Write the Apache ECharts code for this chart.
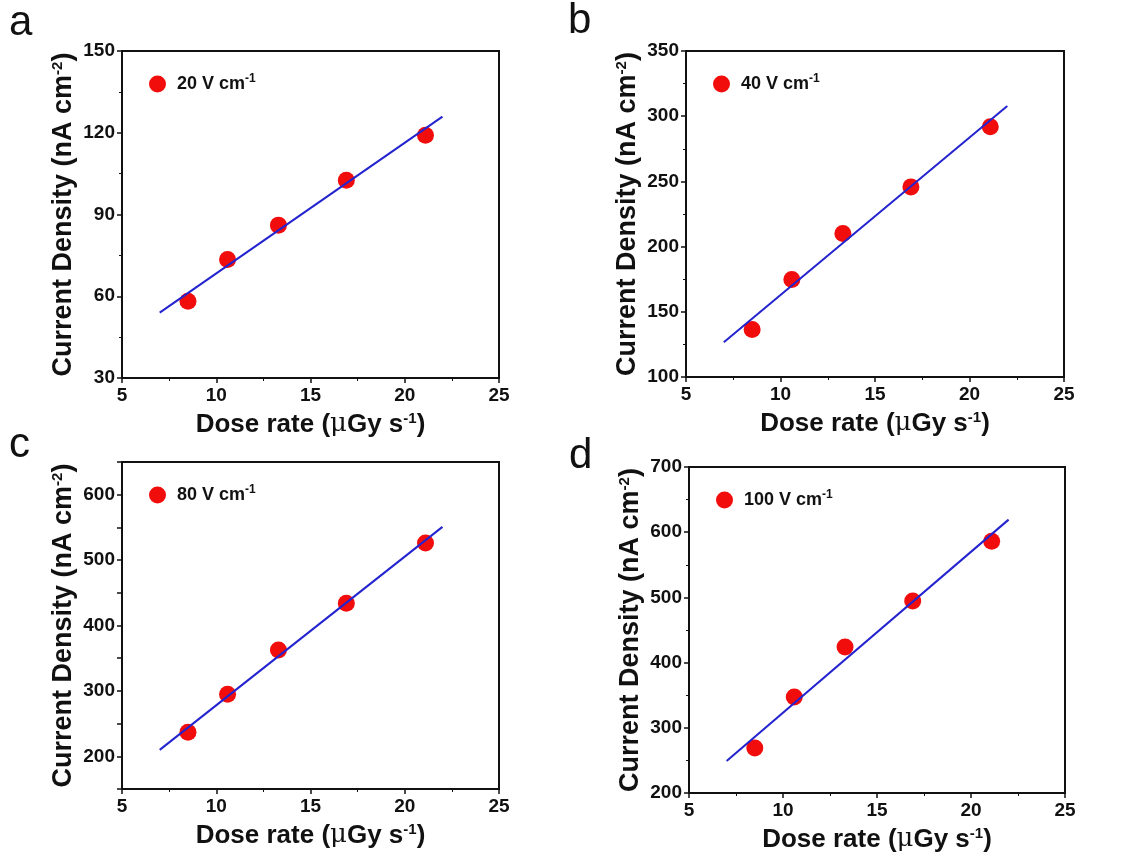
<!DOCTYPE html>
<html>
<head>
<meta charset="utf-8">
<script src="https://cdn.jsdelivr.net/npm/echarts@6/dist/echarts.min.js"></script>
<style>
  html, body { margin: 0; padding: 0; background: #fff; }
  #chart { width: 1122px; height: 863px; }
</style>
</head>
<body>
<div id="chart"></div>
<script>
// measured points (same dose rates for every field)
var doseRate = [8.5, 10.6, 13.3, 16.9, 21.1];
var density20 = [58.2, 73.5, 86.1, 102.6, 119.1];
var density40 = [136.4, 174.8, 210.1, 245.8, 291.9];
var density80 = [236.9, 294.8, 362.4, 434.1, 526.3];
var density100 = [269, 347.2, 423.9, 494.5, 586];

// fitted lines, read at both ends
var fitX = [7, 22];
var fit20 = [54.0, 125.9];
var fit40 = [126.6, 307.8];
var fit80 = [209.8, 550.8];
var fit100 = [249.1, 619.3];

var fields = ["20", "40", "80", "100"];
var letters = ["a", "b", "c", "d"];
var yMin = [30, 100, 150, 200];
var yMax = [150, 350, 650, 700];
var yStep = [30, 50, 50, 100];
var xTicks = [5, 25, 5];

var densities = [density20, density40, density80, density100];
var fits = [fit20, fit40, fit80, fit100];

// grid boxes [left, top, width, height]
var boxes = [
  [122, 51, 377, 327],
  [686, 51, 378, 326],
  [122, 462, 377, 327],
  [689, 467, 376, 326]
];
// panel letter positions [left, top]
var letterPos = [[9, 2], [568, 0], [9, 424], [569, 435]];

var font = "Liberation Sans, Arial, sans-serif";
var supStyle = { fontSize: 15, fontWeight: "bold", fontFamily: font, color: "#111", verticalAlign: "top", lineHeight: 27 };

var chart = echarts.init(document.getElementById("chart"));

var grids = [], xAxes = [], yAxes = [], series = [], legends = [], graphics = [];

for (var i = 0; i < 4; i++) {
  var b = boxes[i];
  grids.push({
    left: b[0], top: b[1], width: b[2], height: b[3],
    show: true, borderColor: "#111", borderWidth: 2, backgroundColor: "transparent"
  });

  xAxes.push({
    gridIndex: i, type: "value", min: xTicks[0], max: xTicks[1], interval: xTicks[2],
    splitLine: { show: false },
    axisLine: { lineStyle: { color: "#111", width: 2 } },
    axisTick: { inside: false, length: 5, lineStyle: { width: 1.5 } },
    minorTick: { show: true, splitNumber: 2, length: 3 },
    axisLabel: { color: "#111", fontSize: 19, fontWeight: "bold", fontFamily: font, margin: 8 },
    name: "{t|Dose rate (}{m|μ}{t|Gy s}{s|-1}{t|)}",
    nameLocation: "middle", nameGap: 33,
    nameTextStyle: {
      rich: {
        t: { fontSize: 26, fontWeight: "bold", fontFamily: font, color: "#111", lineHeight: 27 },
        m: { fontSize: 26, fontFamily: "DejaVu Serif, serif", color: "#111", lineHeight: 27 },
        s: supStyle
      }
    }
  });

  var isC = i === 2;
  yAxes.push({
    gridIndex: i, type: "value", min: yMin[i], max: yMax[i], interval: yStep[i],
    splitLine: { show: false },
    axisLine: { show: true, lineStyle: { color: "#111", width: 2 } },
    axisTick: { show: true, inside: false, length: 5, lineStyle: { width: 1.5 } },
    minorTick: { show: !isC, splitNumber: 2, length: 3 },
    axisLabel: {
      color: "#111", fontSize: 19, fontWeight: "bold", fontFamily: font, margin: 7,
      showMinLabel: true, showMaxLabel: true,
      formatter: isC ? function (v) { return v % 100 === 0 ? v : ""; } : null
    },
    name: "{t|Current Density (nA cm}{s|-2}{t|)}",
    nameLocation: "middle", nameGap: 45,
    nameTextStyle: {
      rich: {
        t: { fontSize: 27, fontWeight: "bold", fontFamily: font, color: "#111", lineHeight: 27 },
        s: supStyle
      }
    }
  });

  var pts = [];
  for (var k = 0; k < doseRate.length; k++) pts.push([doseRate[k], densities[i][k]]);
  series.push({
    name: fields[i], type: "scatter", xAxisIndex: i, yAxisIndex: i,
    data: pts, symbol: "circle", symbolSize: 17,
    itemStyle: { color: "#f20d0d", opacity: 1 }, z: 3
  });
  series.push({
    name: "fit" + fields[i], type: "line", xAxisIndex: i, yAxisIndex: i,
    data: [[fitX[0], fits[i][0]], [fitX[1], fits[i][1]]],
    symbol: "none", lineStyle: { color: "#2323cf", width: 2 }, z: 4
  });

  legends.push({
    data: [fields[i]], left: b[0] + 22, top: b[1] + 17,
    itemWidth: 17, itemHeight: 17, icon: "circle",
    formatter: function (name) { return "{t|" + name + " V cm}{s|-1}"; },
    textStyle: {
      padding: [0, 0, 0, 6],
      rich: {
        t: { fontSize: 18, fontWeight: "bold", fontFamily: font, color: "#111", lineHeight: 22 },
        s: { fontSize: 12, fontWeight: "bold", fontFamily: font, color: "#111", verticalAlign: "top", lineHeight: 22 }
      }
    }
  });

  graphics.push({
    type: "text", left: letterPos[i][0], top: letterPos[i][1],
    style: { text: letters[i], font: "42px " + font, fill: "#111" }
  });
}

chart.setOption({
  animation: false,
  backgroundColor: "#fff",
  grid: grids,
  xAxis: xAxes,
  yAxis: yAxes,
  legend: legends,
  series: series,
  graphic: graphics
});
</script>
</body>
</html>
